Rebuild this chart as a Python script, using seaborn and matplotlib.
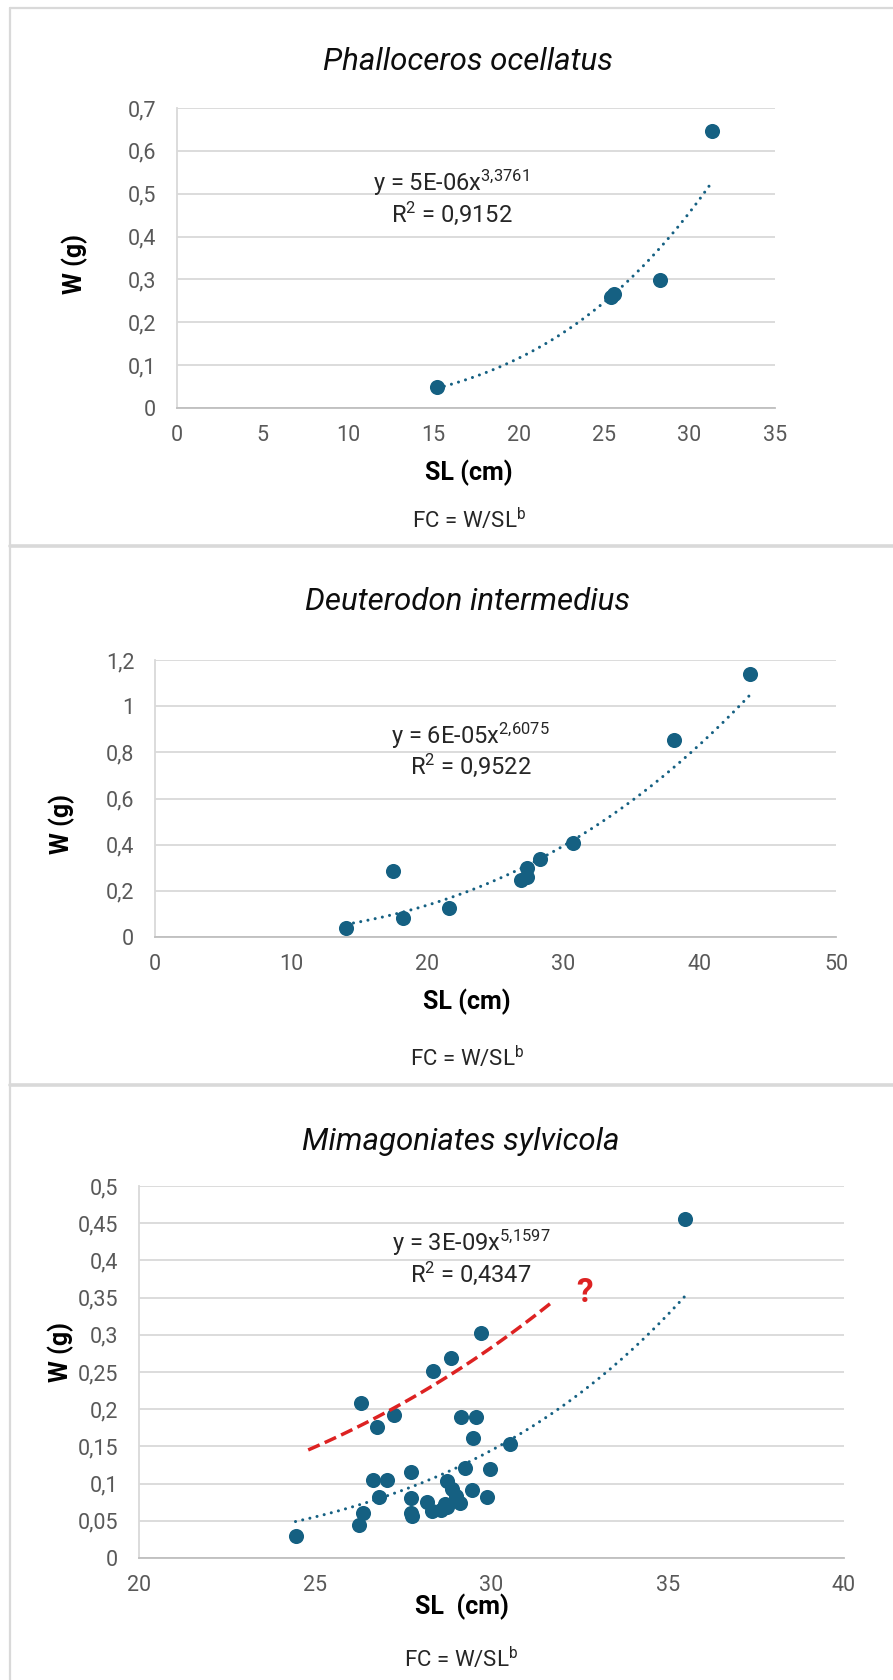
import numpy as np
import pandas as pd
import matplotlib
matplotlib.use("Agg")
import matplotlib.pyplot as plt
import seaborn as sns
from matplotlib.ticker import FuncFormatter, MultipleLocator
from matplotlib.lines import Line2D

# ---------------- data ----------------
titles = ["Phalloceros ocellatus", "Deuterodon intermedius", "Mimagoniates sylvicola"]
equations = [r"y = 5E-06x$^{3{,}3761}$", r"y = 6E-05x$^{2{,}6075}$", r"y = 3E-09x$^{5{,}1597}$"]
r2_texts = [r"R$^{2}$ = 0,9152", r"R$^{2}$ = 0,9522", r"R$^{2}$ = 0,4347"]
xlabels = ["SL (cm)", "SL (cm)", "SL  (cm)"]
ylabel = "W (g)"
fc_text = r"FC = W/SL$^{\mathregular{b}}$"

p1_sl = [15.23, 25.40, 25.55, 28.29, 31.33]
p1_w = [0.048, 0.258, 0.265, 0.299, 0.646]

p2_sl = [14.04, 17.46, 18.19, 21.62, 26.85, 27.29, 27.29, 28.27, 30.67, 38.10, 43.69]
p2_w = [0.040, 0.285, 0.082, 0.125, 0.247, 0.261, 0.298, 0.337, 0.409, 0.852, 1.140]

p3_sl = [24.44, 26.24, 26.35, 26.64, 26.80, 27.04, 26.30, 26.75, 27.22, 27.72,
         27.72, 27.72, 27.74, 28.16, 28.30, 28.34, 28.56, 28.68, 28.74, 28.73,
         28.87, 28.85, 29.00, 29.10, 29.14, 29.26, 29.45, 29.47, 29.56, 29.69,
         29.86, 29.97, 30.52, 35.48]
p3_w = [0.030, 0.044, 0.061, 0.105, 0.082, 0.105, 0.208, 0.176, 0.192, 0.115,
        0.080, 0.061, 0.056, 0.075, 0.063, 0.251, 0.064, 0.072, 0.069, 0.103,
        0.093, 0.269, 0.083, 0.074, 0.190, 0.121, 0.092, 0.161, 0.190, 0.302,
        0.082, 0.119, 0.153, 0.455]

# hand-drawn red guide curve (anchor points)
red_sl = [24.80, 25.50, 27.21, 28.54, 31.76]
red_w = [0.148, 0.159, 0.194, 0.243, 0.346]
red_label = "?"
red_label_pos = (32.65, 0.356)

x_ticks = [(0, 35, 5), (0, 50, 10), (20, 40, 5)]
y_ticks = [(0, 0.7, 0.1), (0, 1.2, 0.2), (0, 0.5, 0.05)]

# ---------------- style ----------------
sns.set_theme(style="white")
plt.rcParams["font.family"] = ["Roboto", "DejaVu Sans"]
plt.rcParams["mathtext.fontset"] = "custom"
plt.rcParams["mathtext.rm"] = "Roboto"
plt.rcParams["mathtext.it"] = "Roboto:italic"
plt.rcParams["mathtext.bf"] = "Roboto:bold"

W, H = 893, 1680
fig = plt.figure(figsize=(W / 100, H / 100), dpi=100)
fig.patch.set_facecolor("white")

BLUE = "#156082"
RED = "#DD2222"
GRID = "#D9D9D9"
TICK = "#595959"

def fx(px):
    return px / W

def fy(py):
    return 1 - py / H

# panel frames
frame_kw = dict(color=GRID, transform=fig.transFigure)
fig.add_artist(Line2D([fx(10), 1], [fy(8), fy(8)], lw=1.6, **frame_kw))
fig.add_artist(Line2D([fx(10), fx(10)], [fy(8), 0], lw=1.6, **frame_kw))
for yy in (546, 1085):
    fig.add_artist(Line2D([fx(10), 1], [fy(yy), fy(yy)], lw=2.6, **frame_kw))

# layout (pixels): left, right, top, bottom
layouts = [
    dict(box=(177, 775, 108, 408), title=(468, 62), eq=(373, 191), r2=(391, 222),
         xl=(0.4876, -0.2167), yl=(-0.1706, 0.48), fc=(469, 520)),
    dict(box=(155, 836, 660, 937), title=(467, 602), eq=(391, 744), r2=(410, 774),
         xl=(0.458, -0.2347), yl=(-0.1366, 0.408), fc=(467, 1058)),
    dict(box=(139, 844, 1186, 1558), title=(461, 1141), eq=(392, 1251), r2=(410, 1282),
         xl=(0.458, -0.1317), yl=(-0.1106, 0.554), fc=(461, 1659)),
]
datasets = [(p1_sl, p1_w), (p2_sl, p2_w), (p3_sl, p3_w)]

def comma_fmt(v, pos):
    s = f"{round(v, 4):g}"
    return s.replace(".", ",")

for i, (lay, (xs, ys)) in enumerate(zip(layouts, datasets)):
    l, r, t, b = lay["box"]
    ax = fig.add_axes([fx(l), fy(b), fx(r - l), (b - t) / H])
    df = pd.DataFrame({"SL": xs, "W": ys})

    # power trendline fitted from the data (log-log least squares)
    bcoef, lna = np.polyfit(np.log(df["SL"]), np.log(df["W"]), 1)
    xx = np.linspace(df["SL"].min(), df["SL"].max(), 200)
    ax.plot(xx, np.exp(lna) * xx ** bcoef, color=BLUE, lw=2.2,
            linestyle=(0, (0.01, 2.4)), dash_capstyle="round", zorder=2)

    sns.scatterplot(data=df, x="SL", y="W", ax=ax, color=BLUE, s=118,
                    linewidth=0, zorder=3, legend=False)

    if i == 2:
        rb, rlna = np.polyfit(np.log(red_sl), np.log(red_w), 1)
        rx = np.linspace(min(red_sl), max(red_sl), 100)
        ax.plot(rx, np.exp(rlna) * rx ** rb, color=RED, lw=2.5,
                linestyle=(0, (3.6, 1.6)), zorder=4)
        ax.text(red_label_pos[0], red_label_pos[1], red_label, color=RED,
                fontsize=24, fontweight="bold", ha="center", va="center", zorder=5)

    x0, x1, xs_ = x_ticks[i]
    y0, y1, ys_ = y_ticks[i]
    ax.set_xlim(x0, x1)
    ax.set_ylim(y0, y1)
    ax.xaxis.set_major_locator(MultipleLocator(xs_))
    ax.yaxis.set_major_locator(MultipleLocator(ys_))
    ax.xaxis.set_major_formatter(FuncFormatter(comma_fmt))
    ax.yaxis.set_major_formatter(FuncFormatter(comma_fmt))
    ax.tick_params(axis="both", length=0, labelsize=15.5, labelcolor=TICK)
    ax.tick_params(axis="x", pad=12)
    ax.tick_params(axis="y", pad=15)

    ax.grid(axis="y", color=GRID, lw=1.3)
    ax.grid(axis="x", visible=False)
    ax.set_axisbelow(True)
    for side in ("top", "right"):
        ax.spines[side].set_visible(False)
    ax.spines["left"].set_color(GRID)
    ax.spines["left"].set_linewidth(1.3)
    ax.spines["bottom"].set_color("#BFBFBF")
    ax.spines["bottom"].set_linewidth(1.3)

    ax.set_xlabel(xlabels[i], fontsize=18, fontweight="bold", color="black",
                  va="center", ha="center")
    ax.xaxis.set_label_coords(*lay["xl"])
    ax.set_ylabel(ylabel, fontsize=18, fontweight="bold", color="black",
                  va="center", ha="center")
    ax.yaxis.set_label_coords(*lay["yl"])

    fig.text(fx(lay["title"][0]), fy(lay["title"][1]), titles[i], fontsize=22.5,
             style="italic", ha="center", va="center", color="#0D0D0D")
    fig.text(fx(lay["eq"][0]), fy(lay["eq"][1]), equations[i], fontsize=17,
             ha="left", va="baseline", color="#262626")
    fig.text(fx(lay["r2"][0]), fy(lay["r2"][1]), r2_texts[i], fontsize=17,
             ha="left", va="baseline", color="#262626")
    fig.text(fx(lay["fc"][0]), fy(lay["fc"][1]), fc_text, fontsize=16,
             ha="center", va="center", color="#262626")

fig.savefig("out.png", dpi=100, facecolor="white")
